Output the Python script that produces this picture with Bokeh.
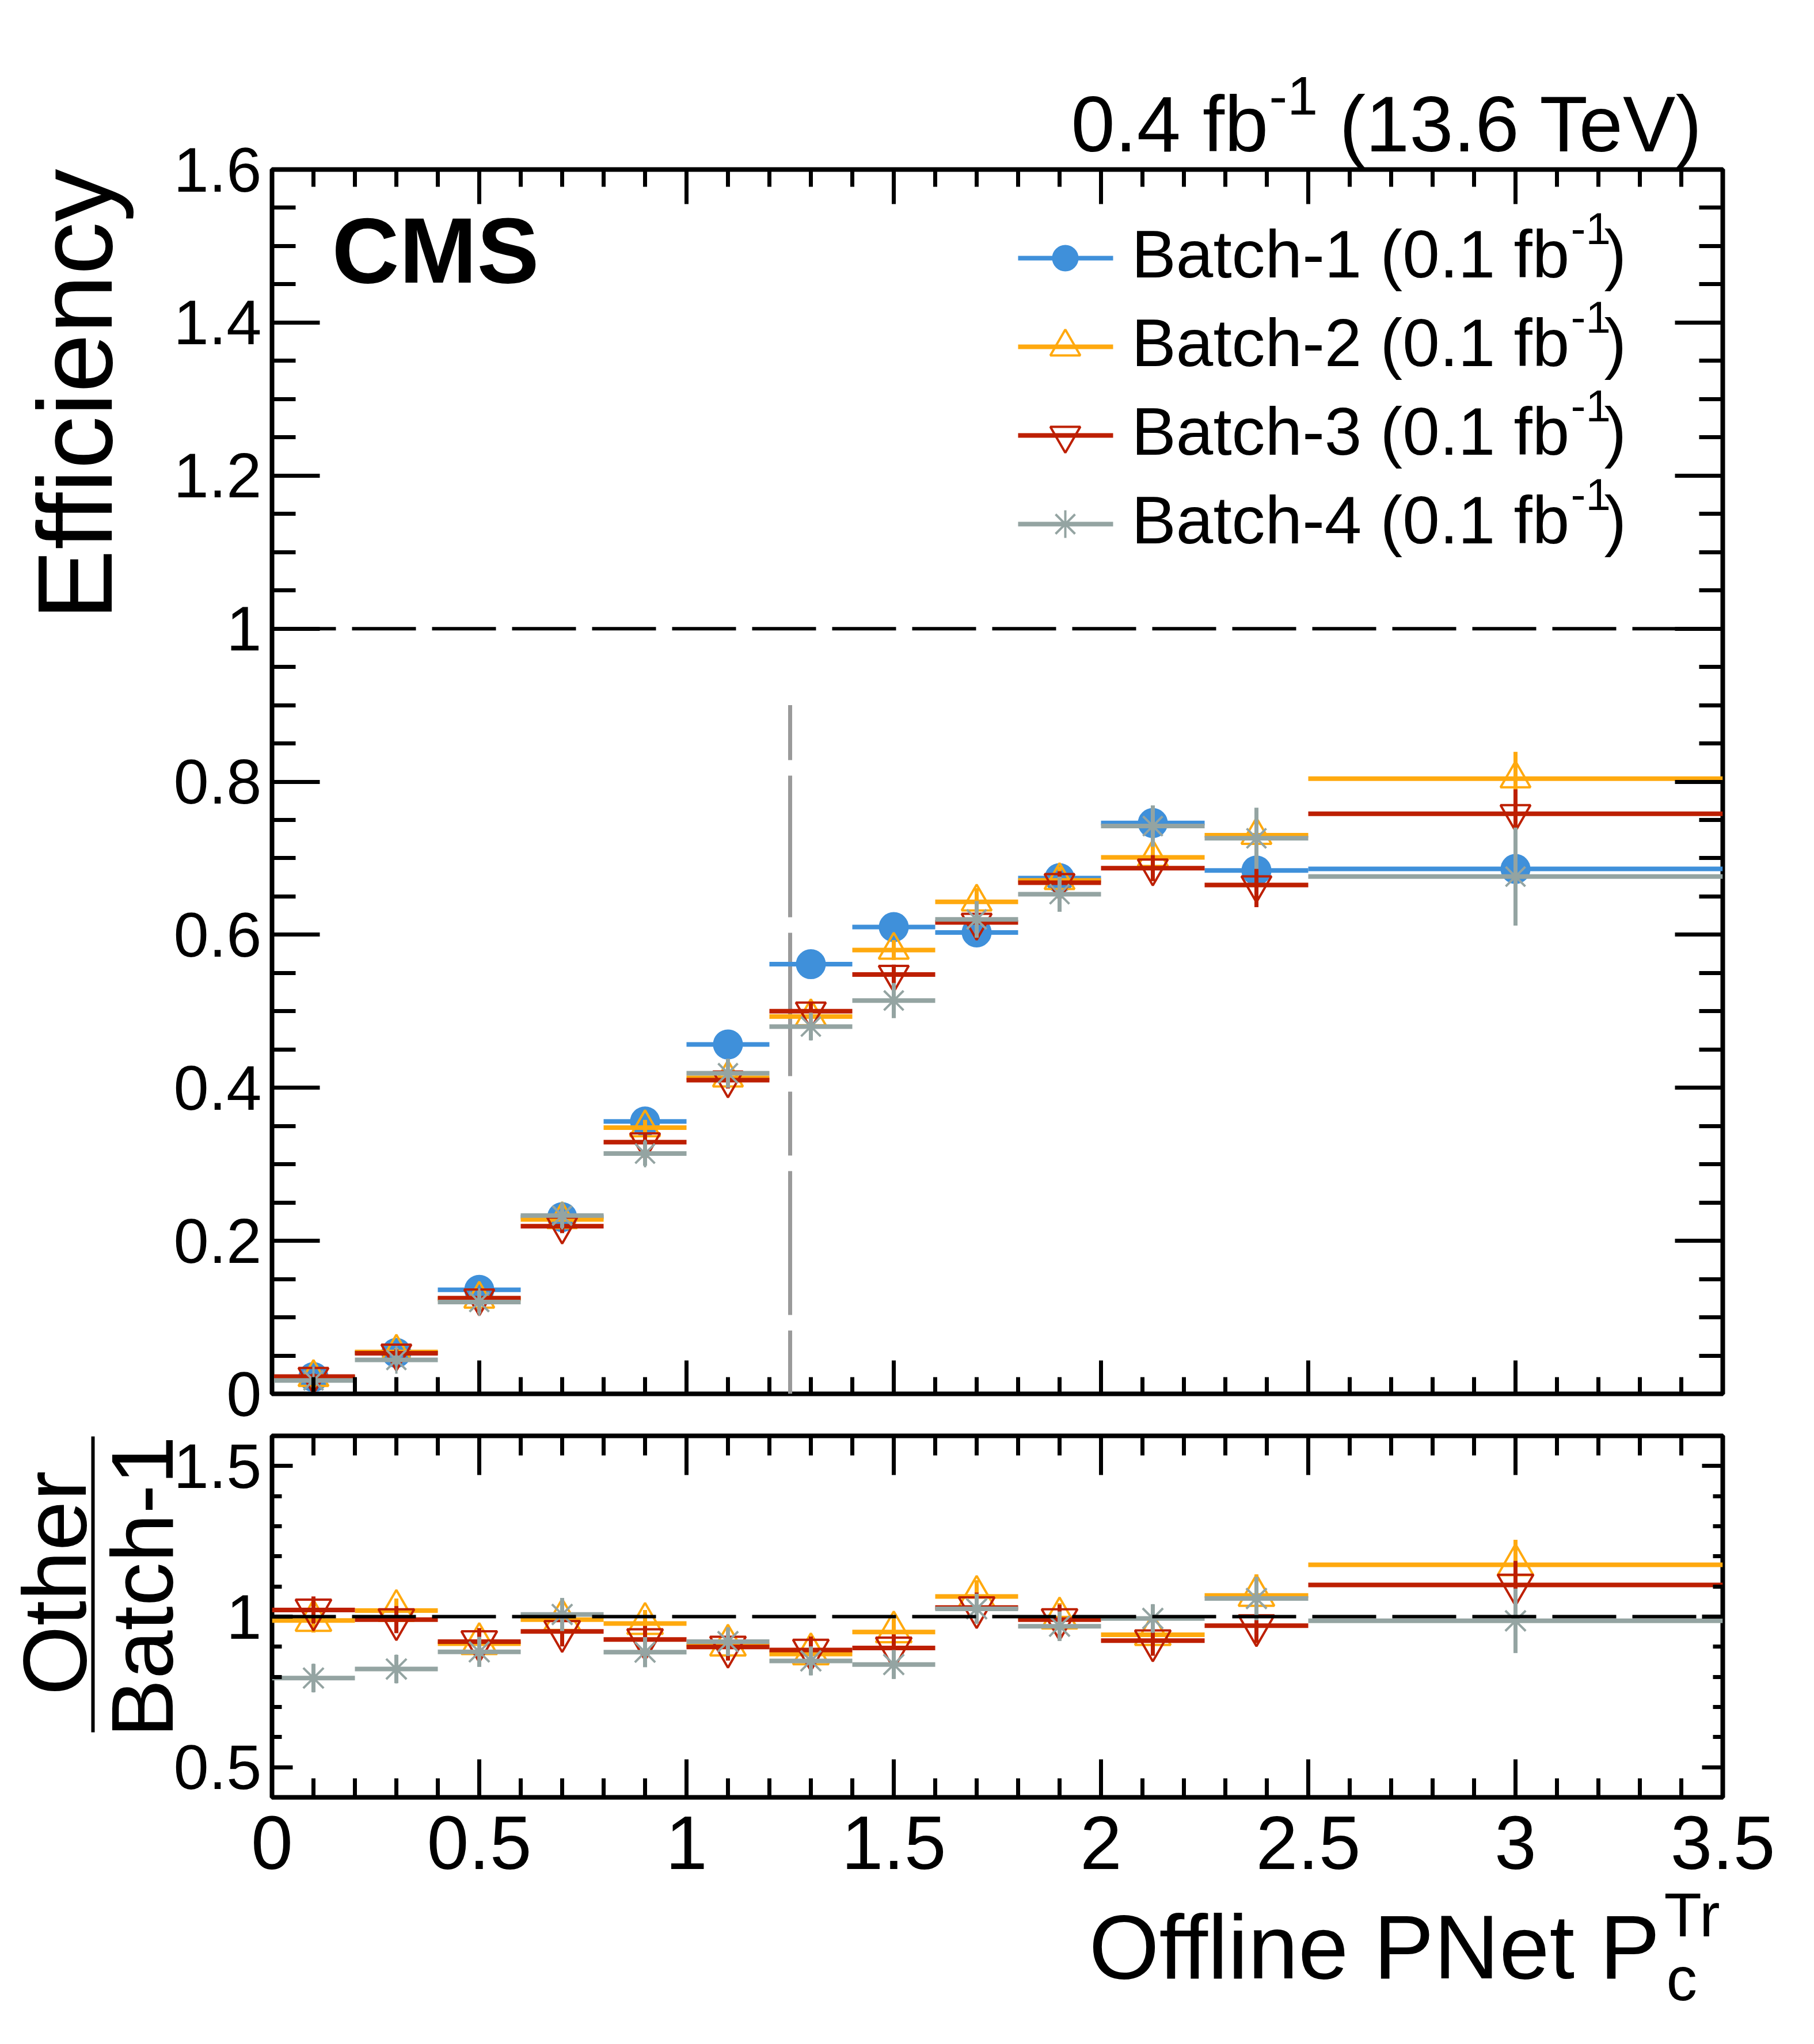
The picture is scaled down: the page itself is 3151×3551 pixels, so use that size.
import math
from bokeh.plotting import figure
from bokeh.layouts import column
from bokeh.models import Range1d, FixedTicker, LinearAxis, Span, CustomJSTickFormatter
from bokeh.core.properties import value
from bokeh.embed import file_html
from bokeh.resources import INLINE

# ---------------- data ----------------
bin_low = [0.0, 0.2, 0.4, 0.6, 0.8, 1.0, 1.2, 1.4, 1.6, 1.8, 2.0, 2.25, 2.5]
bin_high = [0.2, 0.4, 0.6, 0.8, 1.0, 1.2, 1.4, 1.6, 1.8, 2.0, 2.25, 2.5, 3.5]

eff_batch1 = [0.022, 0.0536, 0.136, 0.231, 0.356, 0.4566, 0.5615, 0.610, 0.603, 0.674, 0.746, 0.684, 0.686]
eff_batch2 = [0.0217, 0.0547, 0.124, 0.228, 0.348, 0.413, 0.493, 0.580, 0.643, 0.671, 0.701, 0.730, 0.804]
eff_batch3 = [0.0225, 0.0531, 0.125, 0.219, 0.329, 0.410, 0.500, 0.548, 0.616, 0.668, 0.687, 0.665, 0.758]
eff_batch4 = [0.0175, 0.0443, 0.120, 0.233, 0.314, 0.419, 0.480, 0.514, 0.620, 0.653, 0.742, 0.726, 0.676]

err_batch1 = [0.004, 0.005, 0.007, 0.009, 0.010, 0.011, 0.011, 0.012, 0.013, 0.014, 0.020, 0.030, 0.040]
err_batch2 = [0.004, 0.005, 0.007, 0.009, 0.010, 0.011, 0.012, 0.013, 0.018, 0.018, 0.018, 0.030, 0.035]
err_batch3 = [0.004, 0.005, 0.007, 0.009, 0.010, 0.011, 0.012, 0.013, 0.015, 0.015, 0.017, 0.029, 0.032]
err_batch4 = [0.004, 0.006, 0.015, 0.016, 0.016, 0.019, 0.018, 0.023, 0.024, 0.023, 0.027, 0.040, 0.064]

ratio_batch2 = [0.987, 1.020, 0.910, 0.990, 0.977, 0.905, 0.876, 0.949, 1.067, 0.995, 0.940, 1.070, 1.172]
ratio_batch3 = [1.022, 0.990, 0.917, 0.951, 0.924, 0.899, 0.889, 0.896, 1.030, 0.990, 0.920, 0.970, 1.105]
ratio_batch4 = [0.796, 0.826, 0.883, 1.007, 0.882, 0.917, 0.853, 0.841, 1.026, 0.968, 0.994, 1.060, 0.986]

rerr_batch2 = [0.040, 0.040, 0.045, 0.050, 0.045, 0.045, 0.045, 0.045, 0.054, 0.050, 0.050, 0.070, 0.083]
rerr_batch3 = [0.045, 0.045, 0.045, 0.050, 0.045, 0.045, 0.045, 0.045, 0.050, 0.050, 0.050, 0.058, 0.080]
rerr_batch4 = [0.047, 0.047, 0.050, 0.055, 0.050, 0.047, 0.048, 0.048, 0.050, 0.049, 0.047, 0.072, 0.107]

series_names = ["Batch-1", "Batch-2", "Batch-3", "Batch-4"]
series_lumi = "(0.1 fb"
series_colors = ["#3f90da", "#ffa90e", "#bd1f01", "#94a4a2"]
series_markers = ["circle", "triangle", "inverted_triangle", "asterisk"]

cut_value = 1.25
cut_height = 0.9

x_ticks = [0.0, 0.5, 1.0, 1.5, 2.0, 2.5, 3.0, 3.5]
x_tick_labels = ["0", "0.5", "1", "1.5", "2", "2.5", "3", "3.5"]
eff_ticks = [0.0, 0.2, 0.4, 0.6, 0.8, 1.0, 1.2, 1.4, 1.6]
eff_tick_labels = ["0", "0.2", "0.4", "0.6", "0.8", "1", "1.2", "1.4", "1.6"]
ratio_ticks = [0.5, 1.0, 1.5]
ratio_tick_labels = ["0.5", "1", "1.5"]

X_MIN, X_MAX = 0.0, 3.5
EFF_MIN, EFF_MAX = 0.0, 1.6
R_MIN, R_MAX = 0.4, 1.6

# ---------------- layout (page pixels) ----------------
FONT = "Liberation Sans"
PAGE_W, PAGE_H = 3151, 3551
FR_L, FR_R = 472, 2992
P1_T, P1_B = 294, 2421
P2_T, P2_B = 2494, 3122
H1 = 2484
YLAB = 110          # y tick-label size (keeps the two panels' labels apart)
BASE_SHIFT = 0.36   # rendered text sits this many em lower than its anchor


def xd(px):
    return X_MIN + (px - FR_L) * (X_MAX - X_MIN) / (FR_R - FR_L)


def yd1(py):
    return EFF_MIN + (P1_B - py) * (EFF_MAX - EFF_MIN) / (P1_B - P1_T)


def yd2(py):
    return R_MIN + (P2_B - py) * (R_MAX - R_MIN) / (P2_B - P2_T)


centers = [(lo + hi) / 2 for lo, hi in zip(bin_low, bin_high)]


def make_fig(y0, y1, top_px, bot_px, canvas_top, canvas_h):
    fh = bot_px - top_px
    bt = top_px - canvas_top
    bb = canvas_h - bt - fh
    p = figure(frame_width=FR_R - FR_L, frame_height=fh,
               x_range=Range1d(X_MIN, X_MAX), y_range=Range1d(y0, y1),
               output_backend="svg", toolbar_location=None,
               x_axis_location=None, y_axis_location=None,
               min_border_left=FR_L, min_border_right=PAGE_W - FR_R,
               min_border_top=bt, min_border_bottom=bb)
    p.grid.visible = False
    p.outline_line_color = "black"
    p.outline_line_width = 8
    p.background_fill_color = "white"
    p.border_fill_color = "white"
    return p


def add_axis(p, side, ticks, minor, major_in, minor_in, labels=None, font_px=None, standoff=10):
    ax = LinearAxis(ticker=FixedTicker(ticks=ticks, minor_ticks=minor))
    ax.axis_line_color = None
    ax.major_tick_in = major_in
    ax.major_tick_out = 0
    ax.minor_tick_in = minor_in
    ax.minor_tick_out = 0
    ax.major_tick_line_width = 7
    ax.minor_tick_line_width = 7
    ax.major_tick_line_color = "black"
    ax.minor_tick_line_color = "black"
    if labels is not None:
        ax.formatter = CustomJSTickFormatter(code="return (Math.round(tick*100)/100).toString();")
        ax.major_label_overrides = {float(t): l for t, l in zip(ticks, labels)}
        ax.major_label_text_font = FONT
        ax.major_label_text_font_size = f"{font_px}px"
        ax.major_label_text_color = "black"
        ax.major_label_standoff = standoff
    else:
        ax.formatter = CustomJSTickFormatter(code="return '';")
        ax.major_label_text_font_size = "1px"
        ax.major_label_standoff = 0
    p.add_layout(ax, side)


def add_text(p, ydf, text, px, py, size, rotated=False, align="left", bold=False):
    """px, py: wanted baseline position in page pixels."""
    k = BASE_SHIFT * size
    if rotated:
        ax_, ay_, ang = px - k, py, math.pi / 2
    else:
        ax_, ay_, ang = px, py - k, 0.0
    p.text(x=[xd(ax_)], y=[ydf(ay_)], text=[text], angle=ang,
           text_font=value(FONT), text_font_size=value(f"{size}px"),
           text_align=align, text_baseline="alphabetic", text_color="black",
           text_font_style="bold" if bold else "normal", level="overlay")


def draw_series(p, vals, errs, color, marker, size):
    p.segment(x0=bin_low, y0=vals, x1=bin_high, y1=vals, line_color=color, line_width=8)
    lo = [v - e for v, e in zip(vals, errs)]
    hi = [v + e for v, e in zip(vals, errs)]
    p.segment(x0=centers, y0=lo, x1=centers, y1=hi, line_color=color, line_width=7)
    if marker == "circle":
        p.scatter(x=centers, y=vals, marker=marker, size=size, fill_color=color,
                  line_color=color, line_width=2)
    else:
        p.scatter(x=centers, y=vals, marker=marker, size=size, fill_color=None,
                  line_color=color, line_width=4)


x_minor = [round(i * 0.1, 2) for i in range(36)]
eff_minor = [round(i * 0.05, 2) for i in range(33)]
r_minor = [round(0.4 + i * 0.1, 2) for i in range(13)]

# ---------------- top panel ----------------
p1 = make_fig(EFF_MIN, EFF_MAX, P1_T, P1_B, 0, H1)
add_axis(p1, "left", eff_ticks, eff_minor, 83, 41, eff_tick_labels, YLAB, 18)
add_axis(p1, "right", eff_ticks, eff_minor, 83, 41)
add_axis(p1, "below", x_ticks, x_minor, 58, 29)
add_axis(p1, "above", x_ticks, x_minor, 60, 30)

p1.segment(x0=[cut_value], y0=[0.0], x1=[cut_value], y1=[cut_height], line_color="#9a9a9a",
           line_width=7, line_dash="110 27 250 27 111 27 249 27 246 27 300")

eff_all = [eff_batch1, eff_batch2, eff_batch3, eff_batch4]
err_all = [err_batch1, err_batch2, err_batch3, err_batch4]
sizes1 = [50, 52, 52, 48]
for vals, errs, col, mk, sz in zip(eff_all, err_all, series_colors, series_markers, sizes1):
    draw_series(p1, vals, errs, col, mk, sz)

p1.add_layout(Span(location=1.0, dimension="width", line_color="black", line_width=6,
                   line_dash="111 28"))

# legend
leg_rows = [448, 602, 756, 910]
for name, col, mk, sz, row in zip(series_names, series_colors, series_markers, sizes1, leg_rows):
    p1.segment(x0=[xd(1768)], y0=[yd1(row)], x1=[xd(1933)], y1=[yd1(row)],
               line_color=col, line_width=8)
    if mk == "circle":
        p1.scatter(x=[xd(1850)], y=[yd1(row)], marker=mk, size=44, fill_color=col,
                   line_color=col, line_width=2)
    else:
        p1.scatter(x=[xd(1850)], y=[yd1(row)], marker=mk, size=sz, fill_color=None,
                   line_color=col, line_width=4)
    add_text(p1, yd1, f"{name} {series_lumi}", 1965, row + 35, 116)
    add_text(p1, yd1, "-1", 2728, row - 23, 78)
    add_text(p1, yd1, ")", 2786, row + 35, 116)

add_text(p1, yd1, "CMS", 576, 492, 162, bold=True)
add_text(p1, yd1, "0.4 fb", 1860, 264, 137)
add_text(p1, yd1, "-1", 2204, 200, 95)
add_text(p1, yd1, "(13.6 TeV)", 2958, 264, 137, align="right")
add_text(p1, yd1, "Efficiency", 196, 293, 184, rotated=True, align="right")

# ---------------- ratio panel ----------------
H2 = PAGE_H - H1
p2 = make_fig(R_MIN, R_MAX, P2_T, P2_B, H1, H2)
add_axis(p2, "left", ratio_ticks, r_minor, 36, 17, ratio_tick_labels, YLAB, 18)
add_axis(p2, "right", ratio_ticks, r_minor, 36, 17)
add_axis(p2, "below", x_ticks, x_minor, 66, 33, x_tick_labels, 131, 33)
add_axis(p2, "above", x_ticks, x_minor, 68, 34)

ratio_all = [ratio_batch2, ratio_batch3, ratio_batch4]
rerr_all = [rerr_batch2, rerr_batch3, rerr_batch4]
sizes2 = [62, 62, 50]
for vals, errs, col, mk, sz in zip(ratio_all, rerr_all, series_colors[1:], series_markers[1:], sizes2):
    draw_series(p2, vals, errs, col, mk, sz)

p2.add_layout(Span(location=1.0, dimension="width", line_color="black", line_width=6,
                   line_dash="111 28"))

add_text(p2, yd2, "Offline PNet P", 1891, 3439, 157)
add_text(p2, yd2, "Tr", 2890, 3365, 107)
add_text(p2, yd2, "c", 2894, 3476, 107)
add_text(p2, yd2, "Other", 151, 2750, 156, rotated=True, align="center")
add_text(p2, yd2, "Batch-1", 301, 2756, 152, rotated=True, align="center")
p2.segment(x0=[xd(161)], y0=[yd2(2495)], x1=[xd(161)], y1=[yd2(3009)], line_color="black",
           line_width=6, level="overlay")

layout = column(p1, p2, spacing=0)
open("out.html", "w").write(file_html(layout, INLINE))
